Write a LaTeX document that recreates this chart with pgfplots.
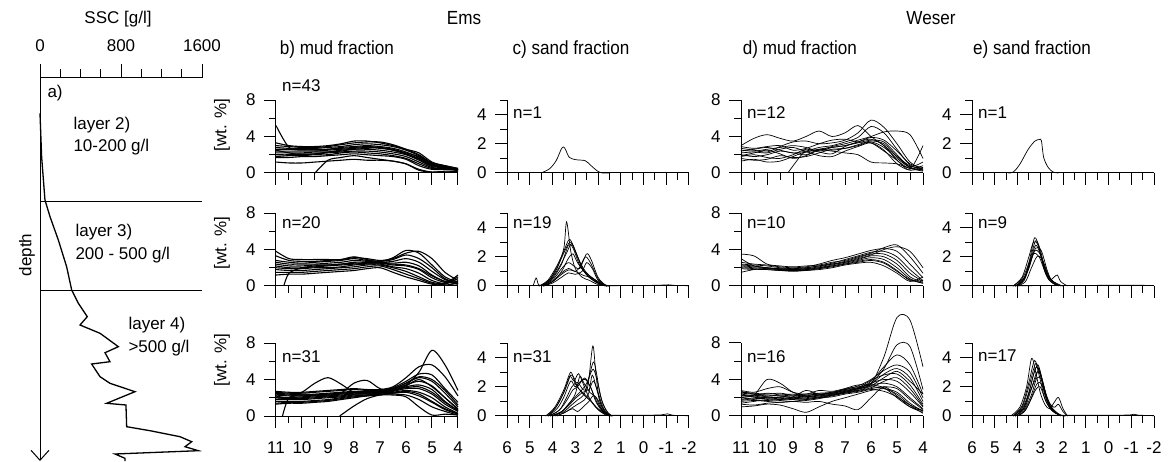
\documentclass[border=0pt]{standalone}
\usepackage{fontspec}
\setmainfont{Liberation Sans}
\usepackage{graphicx}
\usepackage{pgfplots}
\usepackage{pgfplotstable}
\pgfplotsset{compat=1.18}
\usetikzlibrary{arrows.meta}
\newcommand\fs{\fontsize{17}{20}\selectfont}
\newcommand\ft{\fontsize{19}{22}\selectfont}
\tikzset{nlab/.style={anchor=west, font=\fs, inner sep=0pt}}

\pgfplotsset{
 panel/.style={scale only axis, width=182pt, height=73pt, anchor=south west,
   axis x line=bottom, axis y line=left, axis line style={-, line width=1pt},
   x axis line style={-}, y axis line style={-},
   tick align=outside, major tick length=12pt, minor tick length=7pt,
   tick style={black, line width=1pt},
   clip=false, x dir=reverse, ymin=0, unbounded coords=jump,
   cycle list={{black, solid}},
   /pgf/number format/assume math mode=true,
   tick label style={font=\fs},
   yticklabel style={xshift=-5pt},
   xticklabel style={yshift=-10pt},
   every axis plot/.append style={black, solid, line width=0.7pt, no marks, smooth, tension=0.5},
 },
 mud/.style={panel, xmin=4, xmax=11, xtick={4,5,...,11}, minor xtick={4.5,5.5,...,10.5},
   ymax=8, ytick={0,4,8}, minor ytick={2,6}},
 sand/.style={panel, xmin=-2, xmax=6, xtick={-2,-1,...,6}, minor xtick={-1.5,-0.5,...,5.5},
   ymax=5, ytick={0,2,4}, minor ytick={1,3,5}},
 dense/.style={every axis plot/.append style={line width=1.1pt}},
}

% ---------- Ems mud fraction tables ----------
\pgfplotstableread{
x    a   b   c   d   e   f   g   h   i   j   k   l   m
11   3.3 3.0 2.8 2.6 2.4 2.2 2.0 1.8 1.7 1.2 5.2 nan 2.5
10.5 3.0 2.9 2.7 2.6 2.4 2.2 2.0 1.9 1.7 1.1 2.8 nan 2.2
10   2.9 2.8 2.7 2.5 2.4 2.2 2.1 1.9 1.8 1.1 2.6 nan 2.0
9.5  2.9 2.8 2.7 2.6 2.4 2.3 2.1 2.0 1.8 1.2 2.5 0.0 2.1
9    3.0 2.9 2.8 2.6 2.5 2.3 2.2 2.0 1.9 1.3 2.6 1.4 2.3
8.5  3.2 3.1 2.9 2.8 2.6 2.4 2.3 2.2 2.0 1.4 2.7 1.7 2.5
8    3.5 3.3 3.1 2.9 2.7 2.6 2.4 2.3 2.1 1.5 2.8 1.9 2.6
7.5  3.5 3.4 3.2 3.0 2.8 2.6 2.4 2.2 2.0 1.4 2.9 1.7 2.7
7    3.3 3.4 3.1 2.9 2.7 2.5 2.3 2.1 1.9 1.4 2.8 1.5 2.8
6.5  3.0 3.1 2.9 2.7 2.5 2.3 2.1 1.9 1.8 1.3 2.6 1.3 2.5
6    2.6 2.6 2.5 2.3 2.1 2.0 1.8 1.6 1.5 1.0 2.2 1.0 2.1
5.5  2.2 2.0 1.9 1.7 1.5 1.4 1.2 1.0 0.8 0.3 1.8 0.4 1.6
5    1.2 1.1 1.0 0.9 0.8 0.7 0.6 0.5 0.4 0.1 1.0 0.1 0.9
4.5  0.8 0.8 0.7 0.7 0.6 0.6 0.5 0.5 0.4 0.2 0.7 0.1 0.6
4    0.5 0.5 0.4 0.4 0.4 0.3 0.3 0.3 0.3 0.2 0.4 0.2 0.4
}\tblBa

\pgfplotstableread{
x    a   b   c   d   e   f   g   h   i   j
11   3.8 3.3 2.8 2.6 2.4 2.2 2.0 1.8 1.5 1.2
10.5 3.0 2.8 2.6 2.4 2.2 2.0 1.9 1.7 1.5 1.3
10   2.9 2.7 2.5 2.4 2.2 2.0 1.9 1.7 1.5 1.3
9.5  2.9 2.7 2.6 2.4 2.3 2.1 2.0 1.8 1.6 1.4
9    2.9 2.8 2.7 2.5 2.3 2.2 2.0 1.9 1.7 1.5
8.5  2.9 2.9 2.8 2.6 2.4 2.3 2.1 2.0 1.8 1.6
8    3.1 3.2 3.0 2.8 2.6 2.4 2.3 2.1 1.9 1.7
7.5  3.0 2.9 2.8 2.7 2.6 2.5 2.4 2.3 2.1 1.9
7    2.8 2.7 2.7 2.6 2.6 2.5 2.4 2.3 2.2 2.0
6.5  3.0 3.1 2.9 2.7 2.5 2.3 2.1 2.0 1.8 1.5
6    3.6 3.9 3.4 3.0 2.6 2.2 1.9 1.6 1.3 1.0
5.5  3.8 3.6 3.0 2.6 2.2 1.8 1.4 1.0 0.8 0.6
5    3.0 2.3 2.0 1.6 1.2 0.9 0.6 0.4 0.3 0.2
4.5  1.5 1.0 0.8 0.7 0.5 0.4 0.3 0.3 0.2 0.1
4    0.6 0.4 0.3 0.2 0.3 0.5 1.0 1.2 0.8 0.3
}\tblBb

\pgfplotstableread{
x    a   b   c   d   e   f   g   h   i   j   k   l   m
11   2.6 2.4 2.3 2.1 2.0 1.8 1.6 1.4 1.3 2.2 2.0 2.7 2.5
10.5 2.5 2.3 2.2 2.0 1.9 1.8 1.6 1.5 1.4 2.0 1.9 2.6 2.4
10   2.5 2.3 2.2 2.1 1.9 1.8 1.6 1.5 1.4 2.6 2.0 2.6 2.3
9.5  2.6 2.4 2.3 2.2 2.0 1.9 1.7 1.6 1.5 3.6 2.1 2.7 2.3
9    2.7 2.5 2.4 2.3 2.1 2.0 1.8 1.7 1.6 4.2 2.2 2.8 2.4
8.5  2.8 2.6 2.5 2.4 2.2 2.1 2.0 1.9 1.8 3.5 2.5 2.9 2.5
8    2.9 2.7 2.6 2.5 2.4 2.3 2.2 2.1 2.0 2.6 3.6 3.0 2.6
7.5  2.8 2.7 2.6 2.5 2.4 2.3 2.3 2.2 2.2 2.5 3.9 2.9 2.7
7    2.8 2.7 2.6 2.6 2.5 2.5 2.4 2.4 2.3 2.6 3.0 2.9 2.8
6.5  3.1 3.0 2.9 2.8 2.7 2.6 2.5 2.4 2.3 2.9 2.8 3.2 3.0
6    3.8 3.6 3.4 3.2 3.0 2.8 2.6 2.3 2.1 3.6 3.3 4.2 3.4
5.5  4.6 4.2 3.8 3.4 3.0 2.6 2.2 1.8 1.0 4.3 4.0 5.4 4.8
5    4.5 3.8 3.3 2.9 2.4 2.0 1.5 1.0 0.1 4.0 3.2 5.6 7.2
4.5  3.0 2.5 2.0 1.6 1.3 1.0 0.7 0.5 0.2 2.8 2.0 4.3 5.6
4    1.5 1.0 0.8 0.6 0.5 0.3 0.2 0.1 0.1 1.2 0.7 2.2 2.8
}\tblBc

% ---------- Weser mud fraction tables ----------
\pgfplotstableread{
x    A   B   C   D   E   F   G   H   I   J   L
11   3.0 2.7 2.4 2.2 2.0 1.8 1.6 1.3 2.9 1.9 2.5
10.5 3.8 2.5 2.6 2.3 1.8 2.0 1.4 1.5 2.7 2.2 2.4
10   4.2 2.3 2.8 2.2 2.0 1.7 1.5 1.2 2.9 2.5 2.6
9.5  3.8 2.9 2.5 2.6 2.4 1.6 1.9 1.3 3.0 2.1 2.8
9    3.5 3.4 2.2 2.8 2.2 2.0 1.7 1.8 2.5 1.6 3.0
8.5  4.0 3.5 2.4 2.4 2.0 2.6 1.8 2.3 2.7 1.9 2.8
8    4.6 3.2 2.8 2.5 2.6 2.3 2.2 1.9 3.2 2.5 2.4
7.5  4.0 3.3 3.0 2.9 2.8 2.1 2.6 1.8 3.6 2.4 2.8
7    4.4 3.6 3.4 3.2 3.0 2.9 2.7 2.4 3.7 2.2 3.0
6.5  5.2 4.4 3.9 3.6 3.3 3.4 3.1 2.9 3.4 2.0 3.4
6    4.0 5.8 5.1 4.0 3.6 3.7 3.5 3.3 3.3 1.2 3.9
5.5  3.0 5.0 4.4 4.5 3.4 3.0 3.2 2.5 2.4 1.1 3.6
5    1.8 3.2 2.6 4.6 2.0 1.4 1.8 1.0 1.4 1.0 2.4
4.5  0.8 1.2 0.9 4.2 0.6 0.5 0.7 0.3 0.4 0.5 1.0
4    0.5 0.4 0.3 1.6 0.4 0.8 1.2 0.6 3.0 0.2 0.6
}\tblDa

\pgfplotstableread{
x    a   b   c   d   e   f   g   h   i   j
11   3.5 2.6 2.4 2.3 2.2 2.1 2.0 1.9 3.0 1.5
10.5 3.3 2.4 2.3 2.2 2.1 2.0 1.9 1.8 2.2 1.8
10   2.4 2.3 2.2 2.0 2.0 1.9 1.8 1.8 2.0 1.9
9.5  2.2 2.1 2.0 1.9 1.8 1.8 1.7 1.7 1.9 1.8
9    2.1 2.0 1.9 1.8 1.8 1.7 1.7 1.6 1.9 1.8
8.5  2.2 2.1 2.0 1.9 1.8 1.8 1.7 1.7 2.0 1.9
8    2.3 2.4 2.2 2.1 2.0 1.9 1.9 1.8 2.2 2.0
7.5  2.6 2.8 2.5 2.4 2.3 2.2 2.1 2.0 2.4 2.2
7    2.8 3.1 2.9 2.7 2.6 2.5 2.4 2.3 2.6 2.4
6.5  3.2 3.5 3.3 3.1 2.9 2.8 2.7 2.5 3.0 2.6
6    3.6 3.9 3.7 3.5 3.3 3.1 2.9 2.6 3.4 2.8
5.5  4.2 4.1 3.8 3.5 3.2 2.9 2.6 2.2 4.0 2.5
5    4.5 3.8 3.2 2.8 2.4 2.0 1.7 1.4 4.3 1.6
4.5  3.2 2.4 1.8 1.4 1.0 0.8 0.6 0.5 3.8 0.7
4    1.4 0.9 0.6 0.5 0.4 0.3 0.6 1.0 2.0 0.3
}\tblDb

\pgfplotstableread{
x    p1   p2  p3  p4  p5  p6  p7  p8  p9  p10 p11 p12 p13 p14 p15 p16
11   2.0  2.5 2.2 2.6 1.8 2.4 2.1 2.8 1.4 1.0 1.3 2.3 2.7 1.7 2.0 1.6
10.5 2.2  2.4 2.3 2.5 2.0 2.2 2.3 2.6 1.6 1.1 1.2 2.1 2.4 1.9 1.8 1.7
10   2.5  2.3 2.1 2.4 2.1 2.0 4.0 3.0 1.8 1.3 1.4 2.0 2.2 1.9 1.7 1.6
9.5  2.3  2.2 2.0 2.5 2.0 2.1 3.6 3.2 1.7 1.2 1.5 1.9 2.3 1.8 1.8 1.5
9    2.2  2.0 2.0 2.3 1.9 2.2 2.6 2.6 1.6 0.8 1.6 2.1 2.4 1.8 1.9 1.6
8.5  2.1  2.1 2.2 2.4 2.0 2.3 2.2 2.4 1.7 0.4 1.5 2.8 2.2 1.8 1.9 1.8
8    2.3  2.3 2.4 2.5 2.2 2.4 2.0 2.8 1.9 1.0 1.6 2.4 2.2 2.0 2.1 2.0
7.5  2.5  2.6 2.5 2.6 2.4 2.5 2.3 2.7 2.2 1.6 1.3 2.3 2.4 2.3 2.3 2.1
7    2.7  2.9 2.8 2.9 2.6 2.8 2.7 3.0 2.5 2.0 1.1 2.6 3.0 2.6 2.5 2.4
6.5  3.0  3.1 3.0 3.3 2.9 3.1 3.0 3.2 2.7 2.4 0.7 3.0 3.4 2.8 2.8 2.6
6    3.5  3.6 3.8 4.0 3.5 3.9 3.6 3.4 3.0 2.8 2.0 3.2 3.4 3.1 3.3 2.9
5.5  6.5  5.2 5.4 5.0 4.6 4.5 4.0 3.6 3.2 3.0 3.2 3.0 3.1 3.8 4.2 2.7
5    10.8 7.8 6.7 5.6 5.2 4.6 3.8 3.2 3.0 2.6 2.2 2.4 2.0 4.2 4.9 2.1
4.5  10.5 7.6 5.6 4.8 4.2 3.4 2.6 2.0 1.8 1.4 1.0 1.2 1.0 3.0 3.8 1.2
4    5.4  2.9 2.4 2.0 1.6 1.3 1.0 0.8 0.7 0.5 0.4 0.3 0.6 1.1 2.4 0.6
}\tblDc

\begin{document}
\begin{tikzpicture}[x=1pt,y=1pt]
\path[use as bounding box] (0,0) rectangle (1168,461);

% ================= a) SSC profile =================
\begin{axis}[scale only axis, width=162pt, height=383pt, at={(40pt,0pt)}, anchor=south west,
 xmin=0, xmax=1600, ymin=0, ymax=383,
 axis x line=top, axis y line=left, axis line style={line width=1pt},
 x axis line style={-}, y axis line style={{Straight Barb[length=10pt,width=18pt,line width=1pt]}-},
 xtick={0,800,1600}, minor xtick={200,400,600,1000,1200,1400}, ytick=\empty,
 tick align=outside, major tick length=14pt, minor tick length=9pt, tick style={black,line width=1pt},
 /pgf/number format/assume math mode=true, /pgf/number format/1000 sep={},
 tick label style={font=\fs}, xticklabel style={yshift=9pt}, clip=false,
 every axis plot/.append style={no marks}]
\addplot[black, line width=1.3pt] coordinates {
 (0,347.7)(16,304.3)(49,261)(99,244.3)(181,221)(263,194.3)(313,171)(379,157.7)
 (467,144.3)(395,136)(593,127.7)(774,114.3)(642,108.3)(691,99.3)(510,97)(593,84.3)
 (691,77.7)(938,69.3)(658,57.7)(849,56)(856,34.3)(1086,30.3)(1383,24.3)(1498,19.3)
 (1432,14.3)(1564,10.3)(741,7)(839,2.7)(839,0)};
\addplot[black, line width=1pt] coordinates {(0,259)(1600,259)};
\addplot[black, line width=1pt] coordinates {(0,170)(1600,170)};
\end{axis}

\node[font=\fs] at (118,442) {SSC [g/l]};
\node[font=\fs, anchor=west] at (44,368) {a)};
\node[font=\fs, anchor=west] at (70,336) {layer 2)};
\node[font=\fs, anchor=west] at (70,314) {10-200 g/l};
\node[font=\fs, anchor=west] at (72,229) {layer 3)};
\node[font=\fs, anchor=west] at (72,206) {200 - 500 g/l};
\node[font=\fs, anchor=west] at (125,136) {layer 4)};
\node[font=\fs, anchor=west] at (125,113) {>500 g/l};
\node[font=\fs, rotate=90] at (27,206) {depth};

% ================= titles =================
\node[font=\ft] at (464,443) {\scalebox{0.9}[1]{Ems}};
\node[font=\ft] at (931,443) {\scalebox{0.9}[1]{Weser}};
\node[font=\ft] at (337,411) {\scalebox{0.9}[1]{b) mud fraction}};
\node[font=\ft] at (571,411) {\scalebox{0.9}[1]{c) sand fraction}};
\node[font=\ft] at (800,411) {\scalebox{0.9}[1]{d) mud fraction}};
\node[font=\ft] at (1032,411) {\scalebox{0.9}[1]{e) sand fraction}};
\node[font=\fs, rotate=90] at (222,336) {[wt. \%]};
\node[font=\fs, rotate=90] at (222,218) {[wt. \%]};
\node[font=\fs, rotate=90] at (222,101) {[wt. \%]};

% ================= b) Ems mud =================
\begin{axis}[mud, dense, at={(276pt,288pt)}, xticklabels={}]
\pgfplotsinvokeforeach{1,...,13}{\addplot table[x index=0, y index=#1]{\tblBa};}
\node[nlab, xshift=6pt, yshift=14pt] at (axis cs:11,8) {n=43};
\end{axis}
\begin{axis}[mud, dense, at={(276pt,175pt)}, xticklabels={}]
\pgfplotsinvokeforeach{1,...,10}{\addplot table[x index=0, y index=#1]{\tblBb};}
\addplot coordinates {(10.7,0)(10.5,1.4)(10,2.0)(9.5,2.2)(9,2.3)(8.5,2.4)(8,2.5)(7.5,2.5)(7,2.5)(6.5,2.4)(6,2.3)(5.5,1.9)(5,1.1)(4.5,0.5)(4,0.2)};
\node[nlab, xshift=6pt, yshift=-10pt] at (axis cs:11,8) {n=20};
\end{axis}
\begin{axis}[mud, dense, at={(276pt,45pt)}]
\pgfplotsinvokeforeach{1,...,13}{\addplot table[x index=0, y index=#1]{\tblBc};}
\addplot coordinates {(10.75,0)(10.5,2.0)(10,2.4)(9.5,2.3)(9,2.2)(8.5,2.3)(8,2.4)(7.5,2.5)(7,2.6)(6.5,2.8)(6,3.1)(5.5,3.2)(5,2.6)(4.5,1.5)(4,0.6)};
\addplot coordinates {(8.55,0)(8,1.1)(7.5,1.9)(7,2.3)(6.5,2.5)(6,2.7)(5.5,2.4)(5,1.6)(4.5,0.8)(4,0.3)};
\node[nlab, xshift=6pt, yshift=-14pt] at (axis cs:11,8) {n=31};
\end{axis}

% ================= c) Ems sand =================
\begin{axis}[sand, at={(507pt,288pt)}, xticklabels={}]
\addplot coordinates {(4.5,0)(4.13,0.29)(3.84,0.84)(3.62,1.62)(3.52,1.78)(3.43,1.62)(3.26,1.07)(2.97,0.91)(2.56,0.84)(2.31,0.51)(2.02,0.13)(1.8,0)(1.5,0)};
\node[nlab, xshift=6pt, yshift=-13pt] at (axis cs:6,5) {n=1};
\end{axis}
\begin{axis}[sand, at={(507pt,175pt)}, xticklabels={}]
\addplot coordinates {(4.6,0)(4.2,0.3)(3.8,1.2)(3.5,2.6)(3.38,4.4)(3.2,2.4)(3.0,1.2)(2.7,0.6)(2.4,0.4)(2.0,0.1)(1.6,0)};
\addplot coordinates {(4.6,0)(4.2,0.4)(3.8,1.4)(3.5,2.4)(3.25,3.2)(3.0,2.4)(2.75,1.5)(2.5,0.9)(2.2,0.5)(1.8,0.1)(1.5,0)};
\addplot coordinates {(4.5,0)(4.1,0.5)(3.7,1.6)(3.4,2.6)(3.2,3.0)(2.95,2.2)(2.7,1.2)(2.4,0.6)(2.0,0.2)(1.6,0)};
\addplot coordinates {(4.5,0)(4.1,0.4)(3.7,1.3)(3.4,2.2)(3.15,2.9)(2.9,2.0)(2.6,1.0)(2.3,0.5)(1.9,0.1)(1.6,0)};
\addplot coordinates {(4.4,0)(4.0,0.5)(3.6,1.5)(3.3,2.8)(3.1,2.6)(2.8,1.4)(2.5,0.8)(2.2,0.4)(1.8,0.05)};
\addplot coordinates {(4.4,0)(4.0,0.3)(3.6,1.0)(3.3,1.9)(3.1,2.2)(2.9,1.6)(2.6,1.0)(2.3,0.6)(1.9,0.1)};
\addplot coordinates {(4.5,0)(4.0,0.4)(3.6,1.2)(3.3,1.6)(3.0,1.3)(2.8,1.2)(2.5,2.2)(2.3,1.8)(2.0,0.6)(1.7,0.1)(1.5,0)};
\addplot coordinates {(4.5,0)(4.0,0.3)(3.6,0.9)(3.3,1.2)(3.0,1.0)(2.8,1.3)(2.55,2.0)(2.3,1.5)(2.0,0.5)(1.7,0.05)};
\addplot coordinates {(4.4,0)(4.0,0.2)(3.6,0.6)(3.3,0.9)(3.0,0.8)(2.7,1.0)(2.5,1.6)(2.25,1.2)(2.0,0.4)(1.6,0)};
\addplot coordinates {(4.4,0)(4.0,0.3)(3.6,0.8)(3.3,1.1)(3.0,1.0)(2.6,0.7)(2.3,0.6)(2.0,0.3)(1.6,0)};
\addplot coordinates {(4.85,0)(4.72,0.55)(4.62,0.1)(4.5,0.03)};
\addplot coordinates {(1.6,0.02)(0.5,0.03)(-0.6,0.05)(-1.1,0.08)(-1.4,0.04)(-2,0.02)};
\node[nlab, xshift=6pt, yshift=-10pt] at (axis cs:6,5) {n=19};
\end{axis}
\begin{axis}[sand, at={(507pt,45pt)}]
\addplot coordinates {(4.3,0)(3.9,0.6)(3.5,1.8)(3.2,3.0)(3.0,2.2)(2.8,1.8)(2.6,1.5)(2.4,1.2)(2.2,0.8)(1.9,0.3)(1.5,0)};
\addplot coordinates {(4.3,0)(3.9,0.5)(3.5,1.6)(3.25,2.7)(3.05,2.4)(2.85,2.9)(2.6,2.0)(2.4,1.3)(2.1,0.6)(1.7,0.1)};
\addplot coordinates {(4.2,0)(3.8,0.5)(3.5,1.3)(3.2,2.4)(3.0,2.0)(2.75,2.4)(2.55,2.5)(2.3,1.9)(2.1,1.0)(1.8,0.3)(1.5,0)};
\addplot coordinates {(4.1,0)(3.7,0.4)(3.4,1.0)(3.1,1.8)(2.9,2.0)(2.6,2.6)(2.4,2.2)(2.2,1.5)(2.0,0.8)(1.7,0.2)(1.4,0)};
\addplot coordinates {(4.0,0)(3.6,0.3)(3.3,0.7)(3.0,1.2)(2.7,1.6)(2.45,2.0)(2.23,4.8)(2.1,3.0)(1.95,1.2)(1.7,0.3)(1.4,0)};
\addplot coordinates {(4.0,0)(3.6,0.3)(3.3,0.8)(3.0,1.3)(2.7,1.8)(2.45,2.4)(2.2,3.7)(2.05,2.8)(1.9,1.4)(1.65,0.4)(1.4,0)};
\addplot coordinates {(4.0,0)(3.5,0.3)(3.2,0.7)(2.9,1.1)(2.6,1.5)(2.4,2.6)(2.2,3.2)(2.0,2.2)(1.8,0.9)(1.55,0.2)(1.35,0)};
\addplot coordinates {(4.2,0)(3.7,0.4)(3.4,1.2)(3.15,2.0)(2.9,2.3)(2.65,1.8)(2.4,1.8)(2.2,2.4)(2.0,1.6)(1.75,0.5)(1.45,0)};
\addplot coordinates {(4.2,0)(3.8,0.7)(3.4,2.0)(3.2,2.8)(3.05,2.6)(2.9,2.0)(2.6,1.4)(2.3,1.0)(2.0,0.5)(1.6,0.1)};
\addplot coordinates {(3.9,0)(3.5,0.2)(3.2,0.5)(2.9,0.8)(2.6,1.1)(2.4,1.6)(2.25,2.8)(2.05,1.8)(1.85,0.7)(1.6,0.1)};
\addplot coordinates {(4.1,0)(3.6,0.3)(3.3,0.8)(3.0,1.5)(2.8,2.7)(2.6,2.2)(2.35,1.6)(2.1,1.3)(1.9,0.6)(1.6,0.1)};
\addplot coordinates {(3.8,0)(3.4,0.3)(3.1,0.5)(2.9,0.3)(2.6,0.7)(2.4,1.0)(2.2,1.4)(2.0,1.1)(1.8,0.4)(1.5,0)};
\addplot coordinates {(5,0.02)(4.5,0.03)(1.5,0.05)(0,0.05)(-0.8,0.08)(-1.05,0.15)(-1.3,0.05)(-2,0.02)};
\node[nlab, xshift=6pt, yshift=-14pt] at (axis cs:6,5) {n=31};
\end{axis}

% ================= d) Weser mud =================
\begin{axis}[mud, at={(741pt,288pt)}, xticklabels={}]
\pgfplotsinvokeforeach{1,...,11}{\addplot table[x index=0, y index=#1]{\tblDa};}
\addplot coordinates {(9.2,0)(8.7,1.9)(8.5,2.3)(8,2.6)(7.5,2.5)(7,2.7)(6.5,3.0)(6,3.4)(5.5,2.8)(5,1.6)(4.5,0.6)(4,0.3)};
\node[nlab, xshift=6pt, yshift=-13pt] at (axis cs:11,8) {n=12};
\end{axis}
\begin{axis}[mud, at={(741pt,175pt)}, xticklabels={}]
\pgfplotsinvokeforeach{1,...,10}{\addplot table[x index=0, y index=#1]{\tblDb};}
\node[nlab, xshift=6pt, yshift=-10pt] at (axis cs:11,8) {n=10};
\end{axis}
\begin{axis}[mud, at={(741pt,45pt)}]
\pgfplotsinvokeforeach{1,...,16}{\addplot table[x index=0, y index=#1]{\tblDc};}
\node[nlab, xshift=6pt, yshift=-14pt] at (axis cs:11,8) {n=16};
\end{axis}

% ================= e) Weser sand =================
\begin{axis}[sand, at={(972pt,288pt)}, xticklabels={}]
\addplot coordinates {(4.4,0)(4.18,0.07)(3.89,0.62)(3.53,1.62)(3.24,2.18)(3.05,2.29)(2.95,2.22)(2.85,1.07)(2.66,0.4)(2.44,0.07)(2.2,0)};
\node[nlab, xshift=6pt, yshift=-13pt] at (axis cs:6,5) {n=1};
\end{axis}
\begin{axis}[sand, at={(972pt,175pt)}, xticklabels={}]
\addplot coordinates {(4.2,0)(3.8,0.5)(3.5,1.6)(3.25,3.3)(3.05,2.6)(2.8,1.0)(2.6,0.4)(2.3,0.1)(2,0)};
\addplot coordinates {(4.1,0)(3.7,0.6)(3.45,1.8)(3.2,3.1)(3.0,2.5)(2.8,1.2)(2.6,0.5)(2.2,0.05)};
\addplot coordinates {(4.1,0)(3.7,0.5)(3.4,1.9)(3.2,2.8)(3.0,2.2)(2.75,1.0)(2.5,0.3)(2.2,0)};
\addplot coordinates {(4.0,0)(3.7,0.4)(3.45,1.5)(3.2,2.6)(2.95,2.4)(2.7,1.1)(2.5,0.4)(2.1,0.05)};
\addplot coordinates {(4.0,0)(3.7,0.5)(3.5,1.4)(3.25,2.4)(3.05,2.3)(2.8,1.4)(2.6,0.6)(2.3,0.1)};
\addplot coordinates {(4.1,0)(3.8,0.3)(3.5,1.2)(3.3,2.2)(3.05,2.0)(2.8,1.0)(2.6,0.4)(2.4,0.6)(2.25,0.75)(2.1,0.3)(1.8,0)};
\addplot coordinates {(4.2,0)(3.8,0.6)(3.5,2.0)(3.3,3.0)(3.1,2.8)(2.85,1.3)(2.6,0.4)(2.3,0.05)};
\addplot coordinates {(4.0,0)(3.65,0.3)(3.4,1.2)(3.15,2.0)(2.95,1.9)(2.7,0.9)(2.45,0.3)(2.1,0)};
\addplot coordinates {(4.5,0.02)(2,0.03)(0,0.05)(-1,0.06)(-2,0.03)};
\node[nlab, xshift=6pt, yshift=-10pt] at (axis cs:6,5) {n=9};
\end{axis}
\begin{axis}[sand, at={(972pt,45pt)}]
\addplot coordinates {(4.3,0)(3.9,0.6)(3.6,2.0)(3.38,3.95)(3.2,3.0)(3.0,1.6)(2.8,0.8)(2.6,0.5)(2.4,0.9)(2.2,1.27)(2.0,0.5)(1.8,0)};
\addplot coordinates {(4.2,0)(3.8,0.7)(3.5,2.3)(3.25,3.8)(3.05,2.8)(2.8,1.2)(2.5,0.4)(2.2,0.1)(1.9,0)};
\addplot coordinates {(4.2,0)(3.8,0.6)(3.5,2.0)(3.2,3.6)(3.0,2.8)(2.75,1.2)(2.5,0.4)(2.2,0.1)(1.9,0)};
\addplot coordinates {(4.1,0)(3.7,0.6)(3.45,1.9)(3.2,3.3)(3.0,2.9)(2.75,1.3)(2.5,0.5)(2.2,0.1)};
\addplot coordinates {(4.1,0)(3.7,0.5)(3.4,1.8)(3.15,3.0)(2.95,2.7)(2.7,1.2)(2.45,0.4)(2.1,0.05)};
\addplot coordinates {(4.0,0)(3.7,0.4)(3.4,1.4)(3.15,2.6)(2.95,2.5)(2.7,1.3)(2.45,0.5)(2.1,0.05)};
\addplot coordinates {(4.0,0)(3.65,0.4)(3.4,1.2)(3.15,2.2)(2.95,2.2)(2.7,1.1)(2.4,0.6)(2.2,0.8)(2.0,0.3)(1.8,0)};
\addplot coordinates {(4.2,0)(3.8,0.5)(3.5,1.6)(3.3,2.8)(3.1,3.5)(2.9,2.4)(2.65,0.9)(2.4,0.3)(2.1,0)};
\addplot coordinates {(4.1,0)(3.75,0.5)(3.5,1.5)(3.25,2.4)(3.05,3.2)(2.85,2.0)(2.6,0.8)(2.3,0.2)(2.0,0)};
\addplot coordinates {(4.0,0)(3.7,0.3)(3.45,1.0)(3.2,1.8)(3.0,2.0)(2.75,1.0)(2.5,0.4)(2.2,0.1)};
\addplot coordinates {(4.8,0.02)(4,0.05)(2,0.05)(0,0.05)(-0.9,0.07)(-1.12,0.12)(-1.3,0.06)(-2,0.02)};
\node[nlab, xshift=6pt, yshift=-13pt] at (axis cs:6,5) {n=17};
\end{axis}
\end{tikzpicture}
\end{document}
